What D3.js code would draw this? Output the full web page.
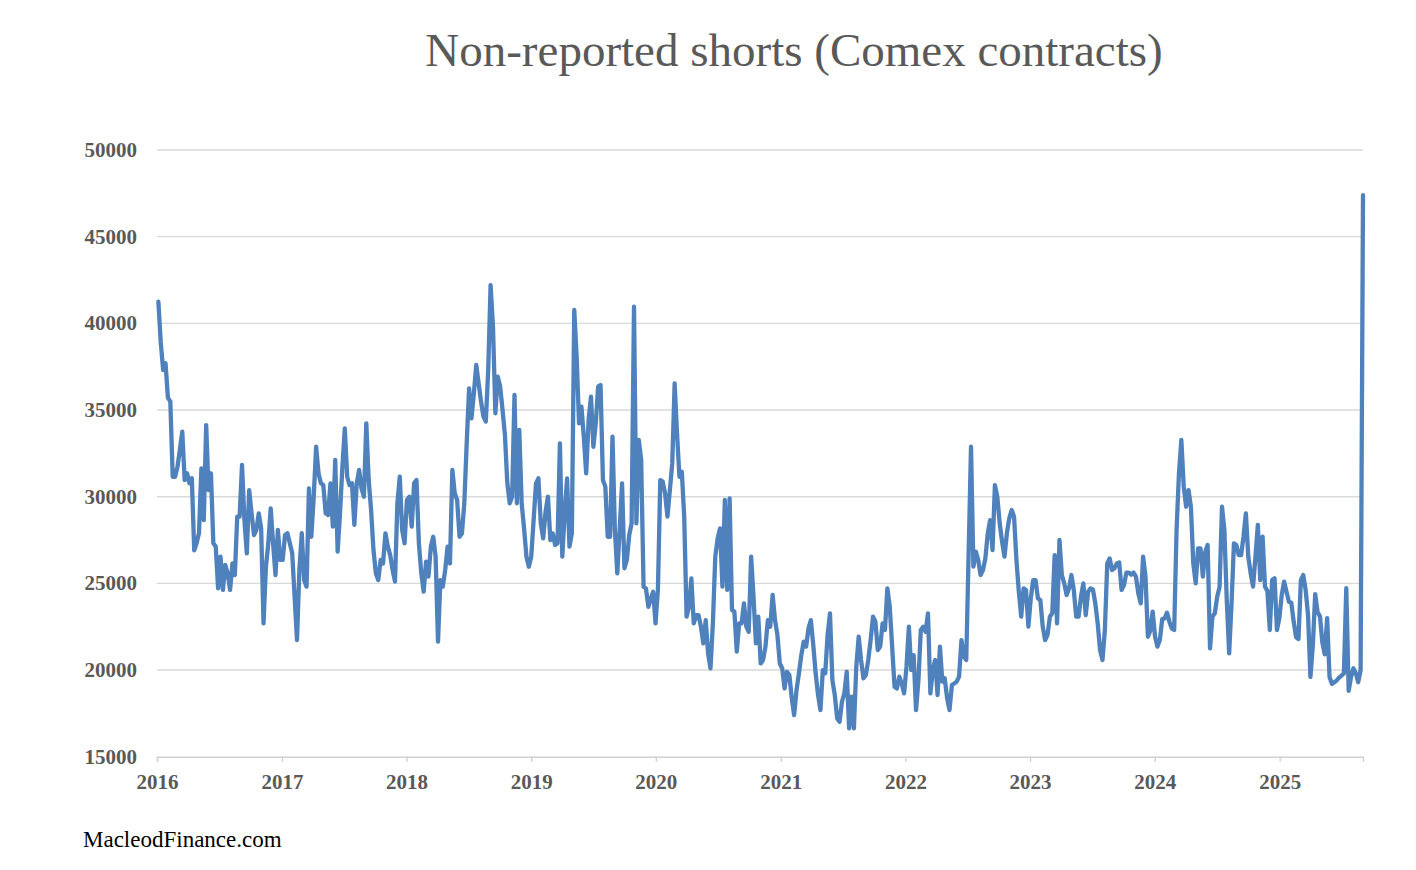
<!DOCTYPE html>
<html><head><meta charset="utf-8">
<script src="https://cdn.jsdelivr.net/npm/d3@7"></script>
<style>body{margin:0;background:#fff} svg{display:block}</style>
</head><body>
<svg id="chart" width="1416" height="870"></svg>
<script>
const chartTitle = "Non-reported shorts (Comex contracts)";
const sourceLabel = "MacleodFinance.com";
const firstWeek = "2016-01-05";
const lastAxisDate = "2025-09-02";
const yTickValues = [15000, 20000, 25000, 30000, 35000, 40000, 45000, 50000];
const xTickYears = [2016, 2017, 2018, 2019, 2020, 2021, 2022, 2023, 2024, 2025];

// weekly values
const weeks2016 = [41250, 38900, 37300, 37700, 35700, 35500, 31150, 31150, 31730, 32700,
  33750, 30960, 31350, 30770, 31060, 26900, 27310, 27900, 31630, 28650,
  34130, 30380, 31350, 27310, 27120, 24710, 26540, 24620, 26060, 25580,
  24620, 26150, 25480, 28850, 28850, 31830, 28650, 26730, 30380, 29040,
  27790, 28080, 29040, 28170, 22690, 25960, 27310, 29330, 27310, 25480,
  28080, 26350, 26350, 27790, 27890, 27310, 26730, 24230, 21730, 25770,
  27890, 25190, 24810, 30480, 27690, 30000, 32880, 31350, 30770, 30670,
  29040, 28940, 30770, 28270, 32120, 26830, 29040, 31730, 33940, 31150, 30670];
const weeks2017 = [30770, 28370, 30770, 31540, 30480, 30000, 34230, 30960, 29230, 26920,
  25580, 25190, 26350, 26150, 27880, 27120, 26630, 25770, 25100, 29620,
  31150, 28080, 27310, 29810, 30000, 28270, 30770, 30960, 27310, 25580,
  24520, 26250, 25390, 27120, 27690, 26540, 21640, 25190, 24810, 25770,
  27120, 26150, 31540, 30190, 29810, 27690, 27880, 29620, 33080, 36250,
  34520, 35960, 37600, 36540, 35480, 34620, 34330, 37310, 42210, 39810,
  34810, 36920, 36350, 35000, 33560, 30770, 29620, 30000, 35870, 29620,
  33850, 29620, 28170, 26540, 25960, 26540, 28650, 30770, 31060];
const weeks2019 = [28460, 27600, 29130, 30000, 27500, 27880, 27210, 27310, 33080, 26540,
  29040, 31060, 27120, 27880, 40770, 38080, 34230, 35190, 33460, 31350,
  34420, 35770, 32880, 34230, 36350, 36440, 30960, 30580, 27690, 27690,
  33460, 28080, 25580, 28080, 30770, 25870, 26350, 27790, 28460, 40960,
  28460, 33270, 32120, 24810, 24710, 23650, 24100, 24520, 22690, 24620, 30960,
  30870, 30190, 28850, 30380, 31920, 36540, 33650, 31150, 31440, 28850,
  23080, 23650, 25290, 22690, 23170, 23170, 22500, 21540, 22880, 20960,
  20100, 22690, 26540, 27600, 28170, 24810, 29810, 24620, 29900, 23460];
const weeks2020 = [23370, 21060, 22690, 22690, 23850, 22500, 22210, 26540, 24230, 21540,
  23080, 20380, 20580, 21350, 22880, 22500, 24330, 22880, 22020, 20380,
  20100, 18940, 19900, 19710, 18370, 17400, 18850, 19810, 20860, 21640,
  21350, 22400, 22880, 21450, 19810, 18560, 17690, 20000, 19810, 22020,
  23270, 19420, 18560, 17210, 17020, 18170, 18650, 19900, 16630, 18460,
  16630, 20190, 21920, 20580, 19520, 19710, 20580, 21730, 23080, 22790,
  21150, 21350, 22690, 22310, 24710, 23650, 21350, 19040, 18940, 19620,
  19230, 18650, 20190, 22500, 20000, 20860, 17690, 19420, 22310];
const weeks2022 = [22500, 22210, 23270, 18650, 20000, 20580, 18560, 21350, 19330, 19520,
  18370, 17690, 19130, 19230, 19330, 19620, 21730, 20770, 20580, 26730,
  32880, 25960, 26830, 26350, 25480, 25770, 26440, 27880, 28650, 26920,
  30670, 30000, 28460, 27400, 26540, 27880, 28750, 29230, 28850, 26350,
  24520, 23080, 24710, 24620, 22500, 24130, 25190, 25190, 24130, 24040,
  22500, 21730, 22020, 23080, 23270, 26630, 22690, 27500, 25480, 25000,
  24330, 24710, 25480, 24620, 23080, 23080, 24230, 25000, 23170, 24520,
  24710, 24650, 23850, 22690, 21150];
const weeks2023 = [20580, 22310, 26150, 26440, 25770, 25870, 26150, 26210, 24620, 24900,
  25620, 25620, 25500, 25620, 25390, 24420, 23850, 26540, 25390, 21920, 22270,
  23370, 21920, 21350, 21730, 22940, 22980, 23310, 22790, 22400, 22310,
  28080, 31350, 33270, 30580, 29420, 30380, 29420, 26150, 25000, 27020,
  27020, 25390, 26830, 27210, 21250, 23080, 23270, 24230, 24810, 29420,
  28080, 24040, 20960, 23850, 27310, 27210, 26630, 26630, 27690, 29040,
  26540, 25580, 24810, 26540, 28370, 25190, 27690, 24810, 24560, 22310,
  25190, 25290, 22310, 22980, 24330, 25100, 24520, 23940];
const weeks2025 = [23880, 22790, 21890, 21790, 25180, 25480, 24620, 23190, 19600,
  21390, 24380, 23350, 23090, 21590, 20900, 22990, 19600, 19200, 19300,
  19400, 19560, 19680, 19800, 24720, 18800, 19600, 20100, 19800, 19300,
  20000, 47390];

const shorts = [].concat(weeks2016, weeks2017, weeks2019, weeks2020, weeks2022, weeks2023, weeks2025);
const parse = d3.timeParse("%Y-%m-%d");
const start = parse(firstWeek);
const series = shorts.map((v, i) => ({ date: d3.timeDay.offset(start, 7 * i), value: v }));

const svg = d3.select("#chart");
const serif = "'Liberation Serif', 'DejaVu Serif', serif";
const gray = "#595959";

const x = d3.scaleTime()
  .domain([new Date(2016, 0, 1), parse(lastAxisDate)])
  .range([157, 1363]);
const y = d3.scaleLinear().domain([15000, 50000]).range([756.7, 150]);

// gridlines
svg.append("g").selectAll("line")
  .data(yTickValues.filter(v => v !== 15000))
  .join("line")
  .attr("x1", x.range()[0]).attr("x2", x.range()[1])
  .attr("y1", d => y(d)).attr("y2", d => y(d))
  .attr("stroke", "#d9d9d9").attr("stroke-width", 1.4);

// y labels
svg.append("g").selectAll("text")
  .data(yTickValues)
  .join("text")
  .attr("x", 137).attr("y", d => y(d) + 7)
  .attr("text-anchor", "end")
  .attr("font-family", serif).attr("font-weight", "bold")
  .attr("font-size", 21).attr("fill", gray)
  .text(d => d);

// x axis
const xAxis = d3.axisBottom(x)
  .tickValues(xTickYears.map(yr => new Date(yr, 0, 1)))
  .tickFormat(d3.timeFormat("%Y"))
  .tickSize(5).tickPadding(12);
const gx = svg.append("g").attr("transform", `translate(0,${y(15000)})`).call(xAxis);
gx.select(".domain").attr("stroke", "#d0d0d0").attr("stroke-width", 1.4);
gx.selectAll(".tick line").attr("stroke", "#d0d0d0").attr("stroke-width", 1.4);
gx.selectAll(".tick text")
  .attr("font-family", serif).attr("font-weight", "bold")
  .attr("font-size", 21).attr("fill", gray);

// line
const line = d3.line().x(d => x(d.date)).y(d => y(d.value));
svg.append("path").datum(series)
  .attr("d", line)
  .attr("fill", "none")
  .attr("stroke", "#4f81bd")
  .attr("stroke-width", 4.3)
  .attr("stroke-linejoin", "round")
  .attr("stroke-linecap", "round");

// title
svg.append("text")
  .attr("x", 794).attr("y", 66)
  .attr("text-anchor", "middle")
  .attr("font-family", serif).attr("font-size", 47)
  .attr("fill", gray)
  .text(chartTitle);

// source
svg.append("text")
  .attr("x", 83).attr("y", 847)
  .attr("font-family", serif).attr("font-size", 23)
  .attr("fill", "#000")
  .text(sourceLabel);
</script>
</body></html>
